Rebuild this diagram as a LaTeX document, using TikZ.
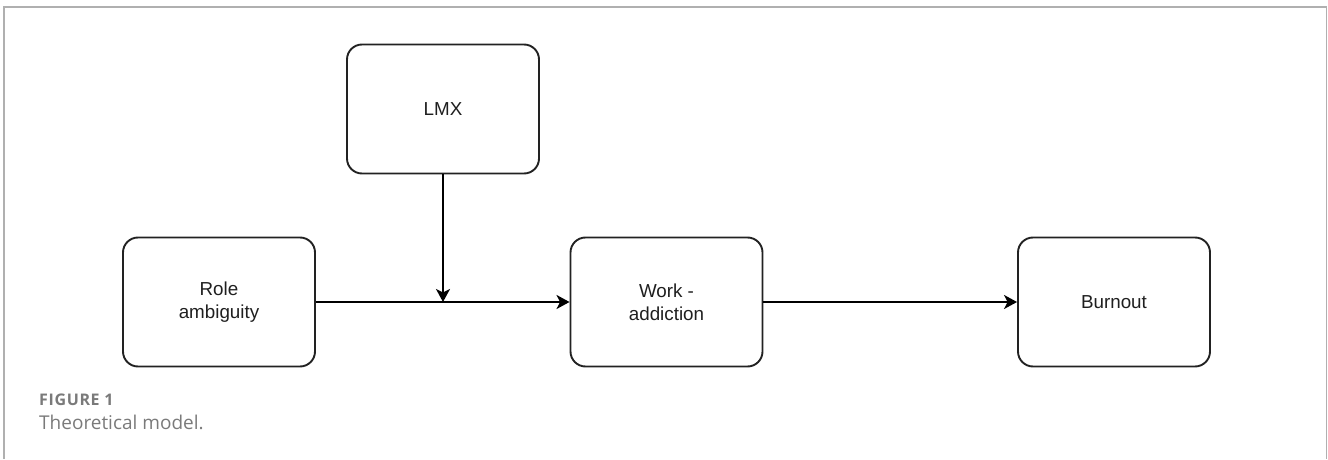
\documentclass[tikz,border=0pt]{standalone}
\usepackage{fontspec}
\setmainfont{Liberation Sans}
\newfontfamily\capfont{Open Sans}
\newfontfamily\capfontsp[LetterSpace=4]{Open Sans}
\usetikzlibrary{arrows.meta}
\definecolor{framegray}{HTML}{B0B0B0}
\definecolor{capgray}{HTML}{7A7A7A}
\definecolor{boxline}{HTML}{222222}
\tikzset{
  box/.style={draw=boxline, line width=1.9pt, rounded corners=15pt, minimum width=192pt, minimum height=129pt, align=center, font=\fontsize{18.8}{23}\selectfont, text=black!88, inner sep=0pt},
  link/.style={draw=black, line width=1.9pt, -{Stealth[length=13pt,width=14pt,inset=3.5pt]}},
  capsmall/.style={font=\capfontsp\bfseries\fontsize{16}{18}\selectfont, text=capgray, inner sep=0pt, anchor=base west},
  capbig/.style={font=\capfont\fontsize{19}{22}\selectfont, text=capgray, inner sep=0pt, anchor=base west}
}
\begin{document}
\begin{tikzpicture}[x=1pt,y=1pt]
\useasboundingbox (0,0) rectangle (1328,459);
\draw[framegray, line width=1.5pt] (4,0) -- (4,452) -- (1326.5,452) -- (1326.5,0);
\node[box] (lmx) at (443,350) {LMX};
\node[box] (role) at (219,157) {Role\\ambiguity};
\node[box] (work) at (666.5,157) {Work -\\addiction};
\node[box] (burn) at (1114,157) {Burnout};
\draw[link] (role.east) -- (work.west);
\coordinate (mid) at (lmx.south |- role.east);
\draw[link] (lmx.south) -- (mid);
\draw[link] (work.east) -- (burn.west);
\node[capsmall] (fig) at (39,54) {FIGURE 1};
\node[capbig] (cap) at (39,30) {Theoretical model.};
\end{tikzpicture}
\end{document}
